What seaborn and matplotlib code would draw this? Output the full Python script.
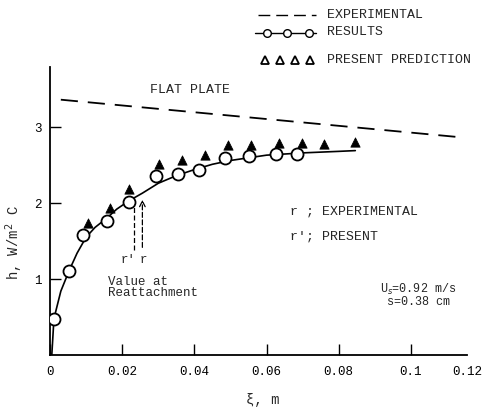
import matplotlib
matplotlib.use("Agg")
import matplotlib.pyplot as plt
import seaborn as sns
import pandas as pd

# --- data ---
exp_x = [0.0011, 0.0053, 0.0092, 0.0157, 0.0219, 0.0293, 0.0355, 0.0413,
         0.0484, 0.0551, 0.0625, 0.0684]
exp_y = [0.48, 1.11, 1.58, 1.77, 2.02, 2.35, 2.38, 2.43, 2.59, 2.62, 2.65, 2.65]

pred_x = [0.0104, 0.0166, 0.0219, 0.0302, 0.0367, 0.0429, 0.0493, 0.0556,
          0.0634, 0.0699, 0.0759, 0.0846]
pred_y = [1.74, 1.93, 2.19, 2.51, 2.57, 2.63, 2.76, 2.76, 2.79, 2.79, 2.78, 2.80]

curve_x = [0.0005, 0.0011, 0.003, 0.0053, 0.0075, 0.010, 0.0125, 0.0157,
           0.0185, 0.0219, 0.0256, 0.030, 0.035, 0.040, 0.045, 0.050, 0.060,
           0.070, 0.080, 0.0846]
curve_y = [0.0, 0.48, 0.84, 1.11, 1.34, 1.55, 1.68, 1.80, 1.92, 2.03, 2.13,
           2.26, 2.36, 2.44, 2.51, 2.56, 2.63, 2.66, 2.68, 2.69]

flat_x = [0.003, 0.115]
flat_y = [3.36, 2.86]

xtick_vals = [0, 0.02, 0.04, 0.06, 0.08, 0.1]
xtick_labels = ["0", "0.02", "0.04", "0.06", "0.08", "0.1"]
ytick_vals = [1, 2, 3]

sns.set_style("white")
plt.rcParams['font.family'] = ['Liberation Mono', 'DejaVu Sans Mono']

fig = plt.figure(figsize=(4.83, 4.16), dpi=100)
ax = fig.add_axes([0.1035, 0.1466, 0.863, 0.6923])

curve = pd.DataFrame({"x": curve_x, "y": curve_y})
exp = pd.DataFrame({"x": exp_x, "y": exp_y})
pred = pd.DataFrame({"x": pred_x, "y": pred_y})
flat = pd.DataFrame({"x": flat_x, "y": flat_y})

sns.lineplot(data=flat, x="x", y="y", ax=ax, color="black", lw=1.3,
             linestyle=(0, (9.5, 5.5)))
sns.lineplot(data=curve, x="x", y="y", ax=ax, color="black", lw=1.2, sort=False)
sns.scatterplot(data=pred, x="x", y="y", ax=ax, marker="^", color="black",
                s=45, edgecolor="black", zorder=3)
sns.scatterplot(data=exp, x="x", y="y", ax=ax, marker="o", facecolor="white",
                edgecolor="black", linewidth=1.3, s=75, zorder=4)

ax.set_xlim(0, 0.1155)
ax.set_ylim(0, 3.79)
ax.set_xticks(xtick_vals)
ax.set_xticklabels(xtick_labels)
ax.set_xticks([0.1155], minor=True)
ax.set_xticklabels(["0.12"], minor=True)
ax.set_yticks(ytick_vals)
ax.set_yticklabels(["1", "2", "3"])
ax.tick_params(which="both", bottom=True, left=True, direction="in",
               colors="black", labelsize=9)
ax.tick_params(which="major", length=8, width=1)
ax.tick_params(which="minor", length=0)
ax.tick_params(axis="x", which="both", pad=8)
ax.tick_params(axis="y", pad=6)
for s in ["top", "right"]:
    ax.spines[s].set_visible(False)
for s in ["left", "bottom"]:
    ax.spines[s].set_color("black")
    ax.spines[s].set_linewidth(1.3)

ax.set_xlabel("ξ, m", fontsize=10)
ax.set_ylabel("h, W/m$^2$ C", fontsize=10)
ax.xaxis.set_label_coords(0.51, -0.132)
ax.yaxis.set_label_coords(-0.06, 0.39)

# reattachment markers
ax.plot([0.0232, 0.0232], [1.38, 1.97], color="black", lw=0.9, ls=(0, (4, 2)))
ax.annotate("", xy=(0.0256, 2.08), xytext=(0.0256, 1.38),
            arrowprops=dict(arrowstyle="->", color="black", lw=0.9,
                            linestyle=(0, (4, 2))))
ax.text(0.0216, 1.33, "r'", fontsize=9, ha="center", va="top")
ax.text(0.0258, 1.33, "r", fontsize=9, ha="center", va="top")

ax.text(0.0160, 0.96, "Value at", fontsize=9, va="center")
ax.text(0.0160, 0.81, "Reattachment", fontsize=9, va="center")
ax.text(0.0277, 3.49, "FLAT PLATE", fontsize=9.5, va="center")
ax.text(0.0664, 1.89, "r ; EXPERIMENTAL", fontsize=9.5, va="center")
ax.text(0.0664, 1.56, "r'; PRESENT", fontsize=9.5, va="center")
ax.text(0.0915, 0.86, "U$_s$=0.92 m/s", fontsize=8.5, va="center")
ax.text(0.0935, 0.70, "s=0.38 cm", fontsize=8.5, va="center")

# legend drawn in figure pixels
W, H = 483, 416
fig.add_artist(plt.Line2D([258 / W, 316 / W], [1 - 15 / H, 1 - 15 / H],
                          color="black", lw=1, ls=(0, (8.5, 4.3))))
leg_x = [255 / W, 267 / W, 287 / W, 309 / W, 316 / W]
fig.add_artist(plt.Line2D(leg_x, [1 - 33 / H] * 5,
                          color="black", lw=1, marker="o", markevery=[1, 2, 3],
                          markersize=5.5, markerfacecolor="white"))
tri_x = [265 / W, 280 / W, 295 / W, 310 / W]
fig.add_artist(plt.Line2D(tri_x, [1 - 60 / H] * 4, ls="none", marker="^",
                          markersize=6, markerfacecolor="white",
                          markeredgecolor="black", markeredgewidth=1.3))
fig.text(327 / W, 1 - 15 / H, "EXPERIMENTAL", fontsize=9.5, va="center")
fig.text(327 / W, 1 - 32 / H, "RESULTS", fontsize=9.5, va="center")
fig.text(327 / W, 1 - 60 / H, "PRESENT PREDICTION", fontsize=9.5, va="center")

fig.savefig("out.png", dpi=100)
